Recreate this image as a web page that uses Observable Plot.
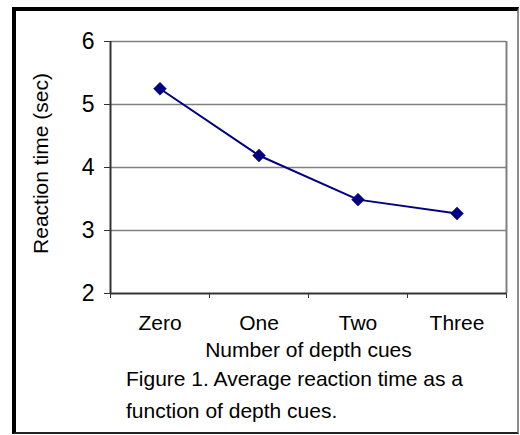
<!DOCTYPE html>
<html><head><meta charset="utf-8">
<script src="https://cdn.jsdelivr.net/npm/d3@7"></script>
<script src="https://cdn.jsdelivr.net/npm/@observablehq/plot@0.6"></script>
<style>
html,body{margin:0;padding:0;background:#fff;}
#wrap{position:relative;width:520px;height:435px;overflow:hidden;font-family:"Liberation Sans",Arial,sans-serif;}
#frame{position:absolute;left:12px;top:7px;width:507px;height:427px;box-sizing:border-box;border-top:4px solid #000;border-left:4px solid #000;border-right:2px solid #8c8c8c;border-bottom:2px solid #222;}
#chart{position:absolute;left:0;top:0;}
#caption{position:absolute;left:126px;top:363px;font-size:21px;line-height:32px;color:#000;white-space:nowrap;}
</style></head><body>
<div id="wrap"><div id="frame"></div><div id="chart"></div><div id="caption">Figure 1. Average reaction time as a<br>function of depth cues.</div></div>
<script>
const categories = ["Zero", "One", "Two", "Three"];
const reactionTimes = [5.25, 4.19, 3.49, 3.27];
const yTicks = [2, 3, 4, 5, 6];
const xLabel = "Number of depth cues";
const yLabel = "Reaction time (sec)";

const data = categories.map((c, i) => ({cue: c, pos: i + 0.5, rt: reactionTimes[i]}));
const boundaries = d3.range(categories.length + 1);
const navy = "#000080";

const chart = Plot.plot({
  width: 520, height: 435,
  marginLeft: 110, marginRight: 14, marginTop: 41, marginBottom: 142,
  style: {fontFamily: "Liberation Sans, Arial, sans-serif", fontSize: "21px", background: "transparent", color: "#000"},
  x: {domain: [0, categories.length], axis: null},
  y: {domain: [2, 6], axis: null},
  marks: [
    Plot.ruleY(yTicks.filter(t => t > 2), {stroke: "#808080", strokeWidth: 1.5}),
    Plot.ruleX([categories.length], {stroke: "#808080", strokeWidth: 2}),
    Plot.axisY({ticks: yTicks, tickSize: 6, tickPadding: 10, tickFormat: d => String(d), stroke: "#333", fill: "#000", fontSize: 23, label: null}),
    Plot.axisX({ticks: boundaries, tickSize: 5, tickFormat: () => "", stroke: "#333", label: null}),
    Plot.ruleX([0], {stroke: "#333", strokeWidth: 2}),
    Plot.ruleY([2], {stroke: "#333", strokeWidth: 2}),
    Plot.text(data, {x: "pos", text: "cue", frameAnchor: "bottom", lineAnchor: "top", dy: 22, fontSize: 21, fill: "#000"}),
    Plot.text([xLabel], {frameAnchor: "bottom", lineAnchor: "top", dy: 49, fontSize: 21, fill: "#000"}),
    Plot.text([yLabel], {frameAnchor: "left", textAnchor: "middle", rotate: -90, dx: -69, dy: -4, fontSize: 21, fill: "#000"}),
    Plot.line(data, {x: "pos", y: "rt", stroke: navy, strokeWidth: 2}),
    Plot.dot(data, {x: "pos", y: "rt", symbol: "diamond2", r: 5.8, fill: navy, stroke: navy, strokeWidth: 0.5})
  ]
});
document.getElementById("chart").appendChild(chart);
</script></body></html>
